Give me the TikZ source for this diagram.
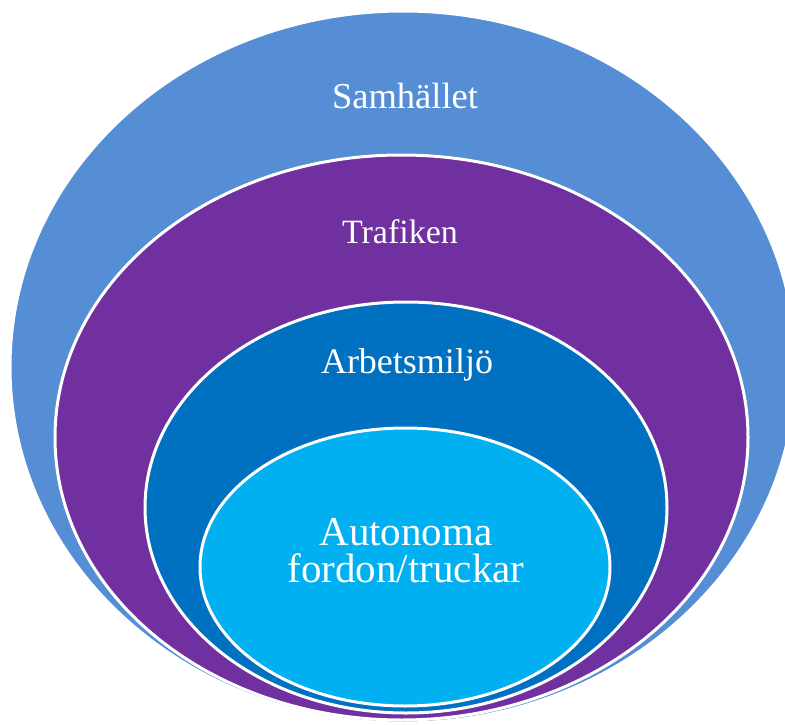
\documentclass[tikz,border=0pt]{standalone}
\usepackage{fontspec}
\setmainfont{Liberation Serif}
\usetikzlibrary{shapes.geometric}
\definecolor{samhcol}{HTML}{558ED5}
\definecolor{trafcol}{HTML}{7030A0}
\definecolor{arbcol}{HTML}{0070C0}
\definecolor{autocol}{HTML}{00B0F0}
\begin{document}
\begin{tikzpicture}[x=1pt,y=-1pt,
    ring/.style={ellipse,draw=white,line width=3pt,inner sep=0pt},
    lbl/.style={text=white,anchor=base,inner sep=0pt}]
    \useasboundingbox (0,0) rectangle (785,725);
    \clip (0,0) rectangle (785,725);
    % the four rings, outer to inner
    \node (samh) at (403,367) [ring,fill=samhcol,minimum width=786pt,minimum height=712pt] {};
    \node (traf) at (401.5,437.5) [ring,fill=trafcol,minimum width=693pt,minimum height=565pt] {};
    \node (arb) at (406,507.5) [ring,fill=arbcol,minimum width=522pt,minimum height=411pt] {};
    \node (auto) at (405,567) [ring,fill=autocol,minimum width=410pt,minimum height=278pt] {};

    \node (lsamh) at (405,108) [lbl,font=\fontsize{36.5}{40}\selectfont] {Samhället};
    \node (ltraf) at (400,243) [lbl,font=\fontsize{34}{40}\selectfont] {Trafiken};
    \node (larb) at (407,373) [lbl,font=\fontsize{36}{40}\selectfont] {Arbetsmiljö};
    \node (lauto) at (406,518) [lbl,anchor=north,align=center,font=\fontsize{41}{37}\selectfont] {Autonoma\\fordon/truckar};
\end{tikzpicture}
\end{document}
